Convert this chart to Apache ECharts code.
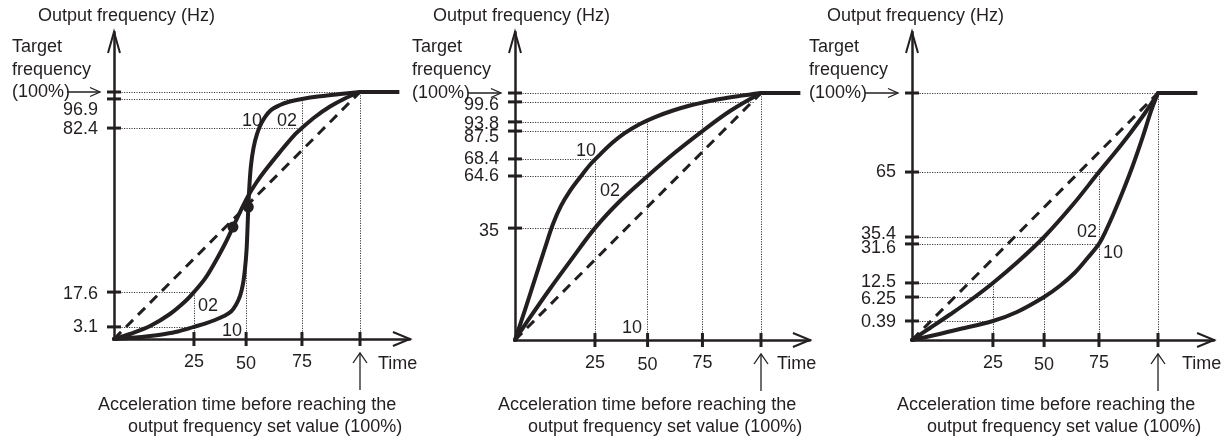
<!DOCTYPE html>
<html><head><meta charset="utf-8">
<script src="https://cdn.jsdelivr.net/npm/echarts@6/dist/echarts.min.js"></script>
<style>html,body{margin:0;padding:0;background:#fff}#c{width:1229px;height:439px}</style>
</head><body><div id="c"></div>
<script>
// ================= DATA =================
// time axis (% of acceleration time)
const timeTicks = [25, 50, 75, 100];
const timeTickLabels = ['25', '50', '75', ''];

// Panel 1 : S-pattern acceleration
const p1FreqTicks = [3.1, 17.6, 82.4, 96.9, 100];
const p1FreqTickLabels = ['3.1', '17.6', '82.4', '96.9', ''];
const p1Curve02 = [[0,0],[5,1.28],[11.3,3.47],[17.5,8.47],[22.2,13.67],[25,17.6],[30.3,22.9],[35.1,29.4],[39.9,36.7],[43.7,43.3],[47.1,49.2],[50.8,55.4],[54.4,60.6],[58.5,65.6],[65.2,73.0],[71.9,79.9],[75,82.4],[80.6,87.9],[87.1,93.1],[93.5,97.1],[100,100]];
const p1Curve10 = [[0,0],[6.6,0.36],[11.3,0.77],[15.9,1.28],[20,1.92],[25,3.1],[30.3,4.47],[35.1,5.97],[39.4,7.63],[42.8,9.5],[45.1,12.2],[47.1,16],[48.5,20.8],[49.5,27.1],[50.2,34.2],[50.6,42.1],[51,51.2],[51.5,59.9],[52.2,67.8],[53.3,74.5],[54.9,80.1],[57.1,85.4],[60.7,90.9],[65.2,93.9],[69.6,95.6],[75,96.9],[82.8,98.1],[91.4,99.1],[100,100]];
const p1Dots = [[43.7,43.3],[51,51.2]];
const p1HGuides = [[25,3.1],[25,17.6],[75,82.4],[75,96.9],[100,100]];
const p1VGuides = [[25,17.6],[50,51],[75,96.9],[100,100]];

// Panel 2 : fast start
const p2FreqTicks = [35, 64.6, 68.4, 87.5, 93.8, 99.6, 100];
const p2FreqTickLabels = ['35', '64.6', '68.4', '87.5', '93.8', '99.6', ''];
const p2Curve02 = [[0,0],[4.7,7.04],[10.9,15.96],[17.2,24.6],[25,35],[36.9,50.4],[50,64.6],[62.5,72.8],[75,87.5],[86.8,96.96],[100,100]];
const p2Curve10 = [[0,0],[3.13,9.39],[6.25,19.09],[9.38,28.8],[11.88,37.3],[14.38,47.6],[17.2,56.1],[20.3,63.7],[23.4,67.05],[27.4,71.4],[33.1,79.3],[39.3,86.2],[46.4,92.35],[53.4,95.2],[61.6,97.1],[69.3,98.55],[75.2,99.42],[82.5,99.73],[91,99.87],[100,100]];
const p2HGuides = [[97,99.6],[50,93.8],[75,87.5],[25,68.4],[50,64.6],[25,35],[100,100]];
const p2VGuides = [[25,68.4],[50,93.8],[75,99.6],[100,100]];

// Panel 3 : slow start
const p3FreqTicks = [0.39, 6.25, 12.5, 31.6, 35.4, 65, 100];
const p3FreqTickLabels = ['0.39', '6.25', '12.5', '31.6', '35.4', '65', ''];
const p3Curve02 = [[0,0],[5.56,0.246],[11.74,1.97],[17.92,5.40],[25,12.5],[36.76,22.5],[50,35.4],[63.17,50.2],[75,65],[81.8,73.65],[88.15,82.1],[94.5,91.14],[100,100]];
const p3Curve10 = [[0,0],[7.1,0.102],[14.8,0.225],[25,0.39],[36.76,2.59],[50,6.25],[57.24,11.23],[64.08,17.6],[70,24.95],[75,31.6],[77.56,37.45],[80.95,45.42],[85.18,56.36],[89.42,68.12],[93.65,80.9],[97.04,92.0],[100,100]];
const p3HGuides = [[75,65],[50,35.4],[75,31.6],[25,12.5],[50,6.25],[25,0.39],[100,100]];
const p3VGuides = [[25,12.5],[50,35.4],[75,65],[100,100]];

const linearRef = [[0,0],[100,100]];
const holdLine = [[100,100],[116,100]];

// ================= LAYOUT (schematic, non-uniform axis spacing) =================
const INK = '#231f20';
const FONT = '"Liberation Sans", Arial, Helvetica, sans-serif';
const panels = [
  { ox:114, oy:339, sx:2.46, sy:2.47, xMax:120.3, yMax:124.3,
    xPos:[0,32.5,53.7,76.4,100], yVals:[0,3.1,17.6,82.4,96.9,100], yPos:[0,4.9,19.0,85.4,97.2,100],
    ticks:p1FreqTicks, tickLabels:p1FreqTickLabels, labelDy:[0,2,1,11,0],
    c02:p1Curve02, c10:p1Curve10, dots:p1Dots, hg:p1HGuides, vg:p1VGuides,
    title:[38,16], target:12, time:378, cap:[98,128],
    curveLabels:[['10',252,121],['02',287,121],['02',208,306],['10',232,331]] },
  { ox:515, oy:340, sx:2.46, sy:2.47, xMax:119.9, yMax:124.7,
    xPos:[0,32.5,53.9,76.2,100], yVals:[0,35,64.6,68.4,87.5,93.8,99.6,100], yPos:[0,45.3,66.4,73.3,84.6,88.3,96.4,100],
    ticks:p2FreqTicks, tickLabels:p2FreqTickLabels, labelDy:[3,0,0,6,2,3,0],
    c02:p2Curve02, c10:p2Curve10, dots:[], hg:p2HGuides, vg:p2VGuides,
    title:[433,16], target:412, time:777, cap:[498,528],
    curveLabels:[['10',586,151],['02',610,191],['10',632,328]] },
  { ox:912, oy:340, sx:2.46, sy:2.47, xMax:122.8, yMax:124.7,
    xPos:[0,32.9,53.7,76.0,100], yVals:[0,0.39,6.25,12.5,31.6,35.4,65,100], yPos:[0,7.7,17.4,23.1,38.9,41.7,68.0,100],
    ticks:p3FreqTicks, tickLabels:p3FreqTickLabels, labelDy:[1,2,-1,4,-3,0,0],
    c02:p3Curve02, c10:p3Curve10, dots:[], hg:p3HGuides, vg:p3VGuides,
    title:[827,16], target:809, time:1182, cap:[897,927],
    curveLabels:[['02',1087,232],['10',1113,253]] }
];
const timeVals = [0,25,50,75,100];

function warp(v, vals, pos) {
  const n = vals.length - 1;
  if (v >= vals[n]) return pos[n] + (v - vals[n]);
  for (let i = 0; i < n; i++) {
    if (v <= vals[i+1]) return pos[i] + (v - vals[i]) * (pos[i+1] - pos[i]) / (vals[i+1] - vals[i]);
  }
  return pos[n];
}

const grids = [], xAxes = [], yAxes = [], series = [];
panels.forEach((p, i) => {
  const wx = t => warp(t, timeVals, p.xPos);
  const wy = v => warp(v, p.yVals, p.yPos);
  const W = pt => [wx(pt[0]), wy(pt[1])];
  p.wx = wx; p.wy = wy;
  grids.push({ left: p.ox, top: p.oy - p.yMax * p.sy, width: p.xMax * p.sx, height: p.yMax * p.sy, containLabel: false });
  const axisCommon = { type:'value', min:0, splitLine:{show:false}, axisTick:{show:false}, axisLabel:{show:false},
    axisLine:{show:true, onZero:false, lineStyle:{color:INK, width:2.5}} };
  xAxes.push(Object.assign({ gridIndex:i, max:p.xMax }, axisCommon));
  yAxes.push(Object.assign({ gridIndex:i, max:p.yMax }, axisCommon));
  const ax = { xAxisIndex:i, yAxisIndex:i };
  const segs = [];
  p.hg.forEach(g => segs.push({ coords: [[0, wy(g[1])], W(g)] }));
  p.vg.forEach(g => segs.push({ coords: [[wx(g[0]), 0], W(g)] }));
  series.push(Object.assign({ type:'lines', coordinateSystem:'cartesian2d', silent:true, z:1,
    lineStyle:{ color:'#3a3a3a', width:1, type:[1.2,1.3], opacity:1 }, data: segs }, ax));
  series.push(Object.assign({ type:'line', data: linearRef.map(W), showSymbol:false, z:2,
    lineStyle:{ color:INK, width:3, type:[10,7] } }, ax));
  [p.c02, p.c10].forEach(c => series.push(Object.assign({ type:'line', data: c.map(W), showSymbol:false, z:3,
    smooth:0.35, lineStyle:{ color:INK, width:4, cap:'round', join:'round' } }, ax)));
  series.push(Object.assign({ type:'line', data: holdLine.map(W), showSymbol:false, z:3,
    lineStyle:{ color:INK, width:4 } }, ax));
  // y ticks with labels
  series.push(Object.assign({ type:'scatter', symbol:'rect', symbolSize:[14,3], z:5,
    itemStyle:{ color:INK, opacity:1 },
    data: p.ticks.map((v,k) => ({ value:[0, wy(v)],
      label:{ show: p.tickLabels[k] !== '', position:'left', distance:9, formatter: p.tickLabels[k],
        color:INK, fontSize:18, fontFamily:FONT, offset:[0, p.labelDy[k]] } })) }, ax));
  // x ticks with labels
  series.push(Object.assign({ type:'scatter', symbol:'rect', symbolSize:[3,14], z:5,
    itemStyle:{ color:INK, opacity:1 },
    data: timeTicks.map((t,k) => ({ value:[wx(t), 0],
      label:{ show: timeTickLabels[k] !== '', position:'bottom', distance:7, formatter: timeTickLabels[k],
        color:INK, fontSize:18, fontFamily:FONT, offset:[0, t === 50 ? 2 : 0] } })) }, ax));
  if (p.dots.length) series.push(Object.assign({ type:'scatter', symbol:'circle', symbolSize:11, z:6,
    itemStyle:{ color:INK, opacity:1 }, data: p.dots.map(W) }, ax));
});

const chart = echarts.init(document.getElementById('c'), null, { renderer:'canvas' });
chart.setOption({ animation:false, backgroundColor:'#fff', grid:grids, xAxis:xAxes, yAxis:yAxes, series:series });

// ---- annotations: arrows and texts ----
const graphic = [];
const txt = (s, x, y, opt) => graphic.push({ type:'text', x, y, silent:true,
  style: Object.assign({ text:s, fill:INK, font:'18px ' + FONT, textVerticalAlign:'middle', verticalAlign:'middle' }, opt || {}) });
const poly = (pts, w) => graphic.push({ type:'polyline', silent:true, shape:{ points:pts },
  style:{ stroke:INK, lineWidth:w, fill:null } });
panels.forEach((p, i) => {
  const toPx = v => chart.convertToPixel({ xAxisIndex:i, yAxisIndex:i }, v);
  const top = toPx([0, p.yMax]);
  poly([[top[0]-6, top[1]+21],[top[0], top[1]],[top[0]+6, top[1]+21]], 2);
  const right = toPx([p.xMax, 0]);
  poly([[right[0]-17, right[1]-7],[right[0], right[1]],[right[0]-17, right[1]+7]], 2);
  const full = toPx([p.wx(100), p.wy(100)]);
  const o = toPx([0, 0]);
  poly([[o[0]-47, full[1]],[o[0]-14, full[1]]], 1.3);
  poly([[o[0]-24, full[1]-4.5],[o[0]-14, full[1]],[o[0]-24, full[1]+4.5]], 1.3);
  poly([[full[0], o[1]+51],[full[0], o[1]+14]], 1.3);
  poly([[full[0]-7, o[1]+24],[full[0], o[1]+14],[full[0]+7, o[1]+24]], 1.3);
  txt('Output frequency (Hz)', p.title[0], p.title[1]);
  txt('Target', p.target, 47);
  txt('frequency', p.target, 70);
  txt('(100%)', p.target, full[1]);
  txt('Time', p.time, 364);
  txt('Acceleration time before reaching the', p.cap[0], 405);
  txt('output frequency set value (100%)', p.cap[1], 427);
  p.curveLabels.forEach(c => txt(c[0], c[1], c[2], { textAlign:'center', align:'center' }));
});
chart.setOption({ graphic: graphic });
</script>
</body></html>
